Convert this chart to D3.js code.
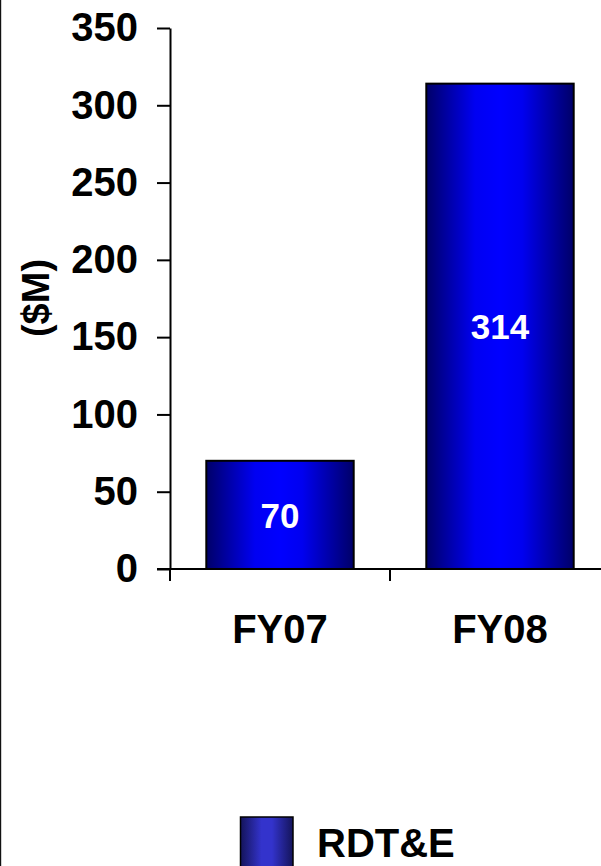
<!DOCTYPE html>
<html>
<head>
<meta charset="utf-8">
<script src="https://cdn.jsdelivr.net/npm/d3@7"></script>
<style>
  html, body { margin: 0; padding: 0; background: #fff; }
  svg { display: block; font-family: "Liberation Sans", Arial, sans-serif; font-weight: bold; }
</style>
</head>
<body>
<svg id="chart" width="601" height="866"></svg>
<script>
const categories = ["FY07", "FY08"];
const values = [70, 314];
const yTicks = [0, 50, 100, 150, 200, 250, 300, 350];
const seriesName = "RDT&E";
const yTitle = "($M)";

const svg = d3.select("#chart");
const W = 601, H = 866;

// left border
svg.append("rect").attr("x", 0).attr("y", 0).attr("width", 1.2).attr("height", H).attr("fill", "#111");

const defs = svg.append("defs");
const g1 = defs.append("linearGradient").attr("id", "barGrad").attr("x1", "0%").attr("x2", "100%").attr("y1", "0%").attr("y2", "0%");
[[0, "#000068"], [0.33, "#0000f2"], [0.5, "#0000ff"], [0.65, "#0000f0"], [1, "#000068"]]
  .forEach(([o, c]) => g1.append("stop").attr("offset", o).attr("stop-color", c));
const g2 = defs.append("linearGradient").attr("id", "legGrad").attr("x1", "0%").attr("x2", "100%").attr("y1", "0%").attr("y2", "0%");
[[0, "#14145a"], [0.4, "#3333cc"], [0.6, "#3333cc"], [1, "#14145a"]]
  .forEach(([o, c]) => g2.append("stop").attr("offset", o).attr("stop-color", c));

const x = d3.scaleBand().domain(categories).range([170, 610]).paddingInner(0.33).paddingOuter(0.165);
const y = d3.scaleLinear().domain([0, 350]).range([569, 28]);

// bars
svg.selectAll("rect.bar").data(values).join("rect")
  .attr("class", "bar")
  .attr("x", (d, i) => x(categories[i]))
  .attr("y", d => y(d))
  .attr("width", x.bandwidth())
  .attr("height", d => y(0) - y(d))
  .attr("fill", "url(#barGrad)")
  .attr("stroke", "#000")
  .attr("stroke-width", 2);

// value labels
svg.selectAll("text.val").data(values).join("text")
  .attr("class", "val")
  .attr("x", (d, i) => x(categories[i]) + x.bandwidth() / 2)
  .attr("y", d => (y(d) + y(0)) / 2)
  .attr("dy", "0.36em")
  .attr("text-anchor", "middle")
  .attr("fill", "#fff")
  .attr("font-size", 35)
  .text(d => d);

// y axis
const yAxis = d3.axisLeft(y).tickValues(yTicks).tickSize(13).tickSizeOuter(0).tickPadding(19);
const ga = svg.append("g").attr("transform", "translate(170,0)").call(yAxis);
ga.select(".domain").attr("stroke", "#000").attr("stroke-width", 2);
ga.selectAll(".tick line").attr("stroke", "#000").attr("stroke-width", 2);
ga.selectAll(".tick text").attr("font-size", 40).attr("font-family", "Liberation Sans, Arial, sans-serif")
  .attr("font-weight", "bold").attr("fill", "#000");

// x axis line
const step = x.step();
const bounds = [x(categories[0]) - step * x.paddingInner() / 2];
categories.forEach(c => bounds.push(x(c) + x.bandwidth() + step * x.paddingInner() / 2));
svg.append("line").attr("x1", 157).attr("x2", W + 10).attr("y1", y(0)).attr("y2", y(0))
  .attr("stroke", "#000").attr("stroke-width", 2);
svg.selectAll("line.xt").data(bounds).join("line").attr("class", "xt")
  .attr("x1", d => d).attr("x2", d => d).attr("y1", y(0)).attr("y2", y(0) + 12)
  .attr("stroke", "#000").attr("stroke-width", 2);

// category labels
svg.selectAll("text.cat").data(categories).join("text").attr("class", "cat")
  .attr("x", d => x(d) + x.bandwidth() / 2)
  .attr("y", 643)
  .attr("text-anchor", "middle")
  .attr("font-size", 40)
  .attr("fill", "#000")
  .text(d => d);

// y title
svg.append("text")
  .attr("transform", "translate(49,298) rotate(-90)")
  .attr("text-anchor", "middle")
  .attr("font-size", 38)
  .attr("fill", "#000")
  .text(yTitle);

// legend
svg.append("rect").attr("x", 240.5).attr("y", 817).attr("width", 52.5).attr("height", 60)
  .attr("fill", "url(#legGrad)").attr("stroke", "#000").attr("stroke-width", 1.5);
svg.append("text").attr("x", 317).attr("y", 857).attr("font-size", 40).attr("fill", "#000").text(seriesName);
</script>
</body>
</html>
